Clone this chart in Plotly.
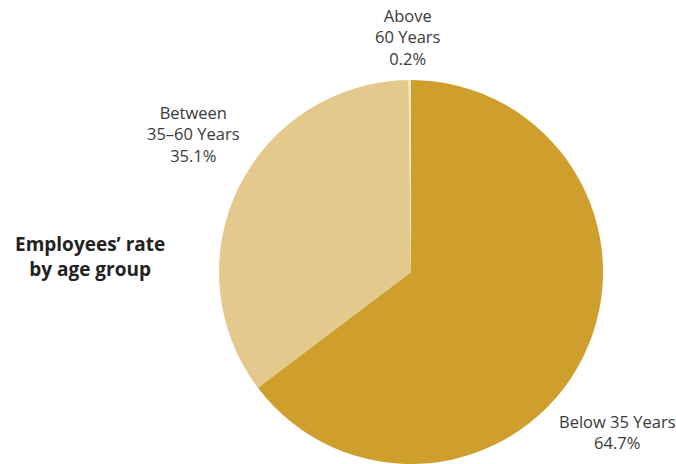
import plotly.graph_objects as go

labels = ["Below 35 Years", "Between 35–60 Years", "Above 60 Years"]
values = [64.7, 35.1, 0.2]
colors = ["#CE9F2C", "#E3C98B", "#F4E6C6"]
label_texts = ["Below 35 Years<br>64.7%", "Between<br>35–60 Years<br>35.1%", "Above<br>60 Years<br>0.2%"]
title_text = "<b>Employees’ rate<br>by age group</b>"

W, H = 676, 464
cx, cy, r = 411, 272, 192
top = H - 2 * r
plot_h = H - top

def py(y):
    return (H - y) / plot_h

fig = go.Figure(go.Pie(
    labels=labels, values=values, sort=False, direction="clockwise", rotation=0,
    marker=dict(colors=colors, line=dict(width=0)),
    textinfo="none", hoverinfo="label+percent", showlegend=False,
    domain=dict(x=[(cx - r) / W, (cx + r) / W], y=[0, 1]),
))

font = dict(family="Open Sans, Noto Sans, sans-serif", size=16.5, color="#3a3a3a")
positions = [(617, 432), (193, 134), (408, 37)]
for txt, (x, y) in zip(label_texts, positions):
    fig.add_annotation(x=x / W, y=py(y), xref="paper", yref="paper", text=txt,
                       showarrow=False, font=font, align="center", xanchor="center", yanchor="middle")

fig.add_annotation(x=90 / W, y=py(256), xref="paper", yref="paper", text=title_text,
                   showarrow=False, font=dict(family="Open Sans, Noto Sans, sans-serif", size=19, color="#222222"),
                   align="center", xanchor="center", yanchor="middle")

fig.update_layout(width=W, height=H, margin=dict(l=0, r=0, t=top, b=0),
                  paper_bgcolor="white", plot_bgcolor="white")
fig.write_html("out.html")
